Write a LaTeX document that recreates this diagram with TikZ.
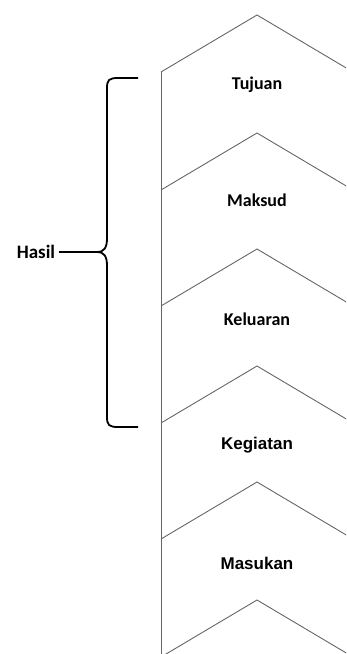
\documentclass[tikz,border=0pt]{standalone}
\usepackage{fontspec}
\setmainfont{Liberation Sans}
\newfontfamily\calfont{Carlito}
\usetikzlibrary{positioning}

\begin{document}
\begin{tikzpicture}[x=1pt, y=-1pt]
\tikzset{
  chev/.style={draw=black!60, line width=0.9pt},
  bigtext/.style={font=\fontsize{17}{20}\selectfont\bfseries},
  smalltext/.style={font=\calfont\fontsize{18}{21}\selectfont\bfseries},
  brace/.style={line width=1.8pt, black}
}
\clip (0,0) rectangle (346,654);
\def\x{161}

\draw[chev] (\x, 72) -- (\x, 660);

\draw[chev] (\x, 15+57) -- (\x+96, 15) -- (\x+192, 15+57);
\draw[chev] (\x, 133+57) -- (\x+96, 133) -- (\x+192, 133+57);
\draw[chev] (\x, 249+57) -- (\x+96, 249) -- (\x+192, 249+57);
\draw[chev] (\x, 366+57) -- (\x+96, 366) -- (\x+192, 366+57);
\draw[chev] (\x, 482+57) -- (\x+96, 482) -- (\x+192, 482+57);
\draw[chev] (\x, 600+57) -- (\x+96, 600) -- (\x+192, 600+57);

\node[smalltext] (tujuan) at (\x+96, 85) {Tujuan};
\node[smalltext] (maksud) at (\x+96, 200) {Maksud};
\node[smalltext] (keluaran) at (\x+96, 319) {Keluaran};
\node[bigtext] (kegiatan) at (\x+96, 445) {Kegiatan};
\node[bigtext] (masukan) at (\x+96, 563) {Masukan};

% brace for the results
\coordinate (tip) at (97, 252);
\draw[brace] (138, 78) -- (118, 78) .. controls (109, 78) and (107, 80) .. (107, 88)
  -- (107, 238) .. controls (107, 248) and (104, 252) .. (tip)
  .. controls (104, 252) and (107, 256) .. (107, 266)
  -- (107, 417) .. controls (107, 425) and (109, 427) .. (118, 427) -- (138, 427);

\node[font=\calfont\fontsize{19}{22}\selectfont\bfseries] (hasil) at (36, 252) {Hasil};
\draw[brace] (hasil) -- (tip);
\end{tikzpicture}
\end{document}
